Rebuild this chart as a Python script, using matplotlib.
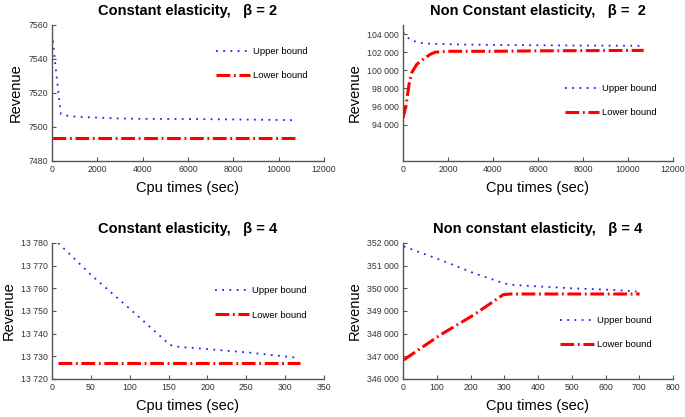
import matplotlib
matplotlib.use("Agg")
import matplotlib.pyplot as plt
from matplotlib.ticker import FuncFormatter

plt.rcParams['font.family'] = ['Liberation Sans', 'DejaVu Sans']

# constant elasticity, beta = 2
ce2_up_x = [10, 100, 200, 320, 400, 720, 1100, 2000, 3000, 4000, 6000, 9000, 10800]
ce2_up_y = [7555, 7543, 7530, 7516, 7507.5, 7506.5, 7506, 7505.5, 7505, 7504.8, 7504.7, 7504.3, 7504]
ce2_lo_x = [0, 10800]
ce2_lo_y = [7493.5, 7493.5]

# non constant elasticity, beta = 2
nce2_up_x = [0, 300, 700, 1050, 2500, 4000, 7000, 10700]
nce2_up_y = [104200, 103400, 103050, 102950, 102850, 102800, 102750, 102700]
nce2_lo_x = [0, 130, 165, 280, 390, 610, 830, 1200, 1420, 2000, 4000, 6000, 10700]
nce2_lo_y = [94700, 96100, 96650, 98650, 99750, 100650, 101100, 101750, 102000, 102100, 102100, 102150, 102200]

# constant elasticity, beta = 4
ce4_up_x = [8, 50, 100, 152, 160, 200, 255, 315]
ce4_up_y = [13780, 13766, 13751, 13735, 13734.3, 13733.2, 13731.6, 13729.4]
ce4_lo_x = [8, 319]
ce4_lo_y = [13727, 13727]

# non constant elasticity, beta = 4
nce4_up_x = [2, 110, 210, 297, 317, 406, 504, 623, 692]
nce4_up_y = [351850, 351260, 350670, 350230, 350160, 350080, 350000, 349930, 349860]
nce4_lo_x = [2, 110, 210, 297, 317, 500, 701]
nce4_lo_y = [346840, 347940, 348830, 349720, 349750, 349750, 349750]

fig = plt.figure(figsize=(6.85, 4.17), dpi=100)

W, H = 685, 417
def axes_px(l, t, r, b):
    return fig.add_axes([l / W, 1 - b / H, (r - l) / W, (b - t) / H])

def space_fmt(v, pos):
    return f"{int(round(v)):,}".replace(",", " ")

panels = [
    dict(box=(52, 25, 324, 161), title="Constant elasticity,   \u03b2 = 2",
         up=(ce2_up_x, ce2_up_y), lo=(ce2_lo_x, ce2_lo_y),
         xlim=(0, 12000), xticks=range(0, 12001, 2000),
         ylim=(7480, 7560), yticks=range(7480, 7561, 20), sep=False,
         leg=(0.603, 0.717)),
    dict(box=(403, 25, 673, 161), title="Non Constant elasticity,   \u03b2 =  2",
         up=(nce2_up_x, nce2_up_y), lo=(nce2_lo_x, nce2_lo_y),
         xlim=(0, 12000), xticks=range(0, 12001, 2000),
         ylim=(90000, 105000), yticks=range(94000, 104001, 2000), sep=True,
         leg=(0.6, 0.445)),
    dict(box=(52, 243, 324, 379), title="Constant elasticity,   \u03b2 = 4",
         up=(ce4_up_x, ce4_up_y), lo=(ce4_lo_x, ce4_lo_y),
         xlim=(0, 350), xticks=range(0, 351, 50),
         ylim=(13720, 13780), yticks=range(13720, 13781, 10), sep=True,
         leg=(0.599, 0.559)),
    dict(box=(403, 243, 673, 379), title="Non constant elasticity,   \u03b2 = 4",
         up=(nce4_up_x, nce4_up_y), lo=(nce4_lo_x, nce4_lo_y),
         xlim=(0, 800), xticks=range(0, 801, 100),
         ylim=(346000, 352000), yticks=range(346000, 352001, 1000), sep=True,
         leg=(0.581, 0.342)),
]

for p in panels:
    ax = axes_px(*p["box"])
    ax.plot(*p["up"], color="#2020ff", lw=1.3, linestyle=(0, (1, 3)), label="Upper bound")
    ax.plot(*p["lo"], color="red", lw=2.2, linestyle=(0, (4.5, 1.2, 0.6, 1.2)), label="Lower bound")
    ax.set_xlim(*p["xlim"])
    ax.set_ylim(*p["ylim"])
    ax.set_xticks(list(p["xticks"]))
    ax.set_yticks(list(p["yticks"]))
    if p["sep"]:
        ax.yaxis.set_major_formatter(FuncFormatter(space_fmt))
    for s in ("top", "right"):
        ax.spines[s].set_visible(False)
    for s in ("left", "bottom"):
        ax.spines[s].set_color("#555555")
        ax.spines[s].set_linewidth(1.0)
    ax.tick_params(direction="in", length=3, width=0.8, color="#555555",
                   labelsize=6.3, labelcolor="#333333", pad=3)
    ax.set_title(p["title"], fontsize=10.5, fontweight="bold", pad=7)
    ax.set_xlabel("Cpu times (sec)", fontsize=10.5, labelpad=5)
    ax.set_ylabel("Revenue", fontsize=10.5, labelpad=4)
    ax.legend(loc="center left", bbox_to_anchor=p["leg"], frameon=False,
              fontsize=6.8, handlelength=3.6, handletextpad=0.3,
              labelspacing=1.6, borderpad=0, borderaxespad=0)

fig.savefig("out.png", dpi=100)
